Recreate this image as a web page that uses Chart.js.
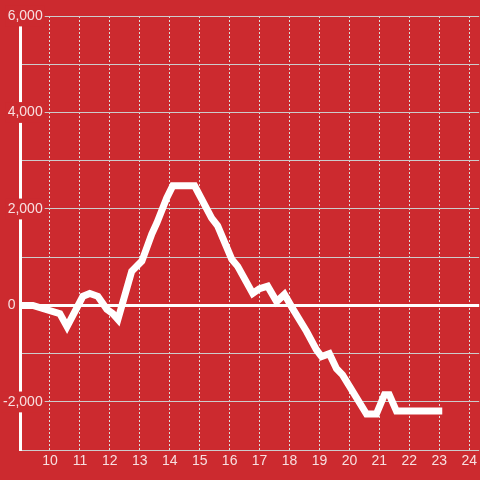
<!DOCTYPE html>
<html>
<head>
<meta charset="utf-8">
<script src="https://cdn.jsdelivr.net/npm/chart.js@4/dist/chart.umd.min.js"></script>
<style>
  html, body { margin: 0; padding: 0; background: #cc2a2f; }
  #wrap { width: 480px; height: 480px; }
</style>
</head>
<body>
<div id="wrap"><canvas id="line-chart"></canvas></div>
<script>
// hours of the day (x) and values (y)
const horas = [9.0, 9.43, 10.33, 10.57, 11.1, 11.33, 11.6, 11.9, 12.1, 12.27,
  12.73, 13.07, 13.4, 13.57, 13.9, 14.1, 14.83, 15.4, 15.6, 16.07,
  16.27, 16.77, 17.0, 17.27, 17.57, 17.83, 18.1, 18.57, 18.9, 19.07,
  19.33, 19.57, 19.77, 20.57, 20.9, 21.17, 21.33, 21.57, 23.1];
const valores = [0, 0, -170, -440, 190, 250, 190, -80, -170, -290,
  710, 920, 1480, 1710, 2230, 2480, 2480, 1810, 1650, 960,
  810, 250, 350, 400, 80, 230, -60, -540, -920, -1060,
  -1000, -1310, -1440, -2250, -2250, -1850, -1850, -2190, -2190];
const etiquetasY = [6000, 4000, 2000, 0, -2000];

const colorTexto = 'rgba(255,255,255,0.85)';
const fondo = '#cc2a2f';
const fuente = { family: 'Liberation Sans, Arial, sans-serif', size: 14 };

const contenedor = document.querySelector('#line-chart').getContext('2d');

const datos = {
  datasets: [{
    data: horas.map((h, i) => ({ x: h, y: valores[i] })),
    borderColor: '#ffffff',
    borderWidth: 7,
    pointRadius: 0,
    tension: 0,
    fill: false,
  }]
};

const config = {
  type: 'line',
  data: datos,
  options: {
    responsive: true,
    maintainAspectRatio: false,
    animation: false,
    layout: { padding: { top: 16, right: 0, bottom: 7, left: 0 } },
    plugins: { legend: { display: false }, tooltip: { enabled: false } },
    scales: {
      x: {
        type: 'linear',
        min: 9,
        max: 24.333,
        ticks: {
          stepSize: 1,
          includeBounds: false,
          color: colorTexto,
          font: fuente,
          padding: 3,
          maxRotation: 0,
          callback: v => (v >= 10 && Number.isInteger(v)) ? String(v) : ''
        },
        grid: { color: '#dddddd', lineWidth: 1, drawTicks: false },
        border: { display: false, dash: [2, 2] }
      },
      y: {
        min: -3000,
        max: 6000,
        afterFit: s => { s.width = 20; },
        ticks: {
          stepSize: 1000,
          color: colorTexto,
          font: fuente,
          mirror: true,
          crossAlign: 'far',
          padding: -17,
          showLabelBackdrop: c => c.tick && c.tick.value !== 0 && etiquetasY.includes(c.tick.value),
          backdropColor: fondo,
          backdropPadding: 2,
          callback: v => {
            if (!etiquetasY.includes(v)) return '';
            if (v === 0) return '0       ';
            return v.toLocaleString('en-US');
          }
        },
        grid: {
          drawTicks: false,
          color: c => c.tick && c.tick.value === 0 ? '#ffffff' : '#cccccc',
          lineWidth: c => c.tick && c.tick.value === 0 ? 3 : 1
        },
        border: { display: true, color: '#ffffff', width: 3 }
      }
    }
  }
};

const graficaLinea = new Chart(contenedor, config);
</script>
</body>
</html>
